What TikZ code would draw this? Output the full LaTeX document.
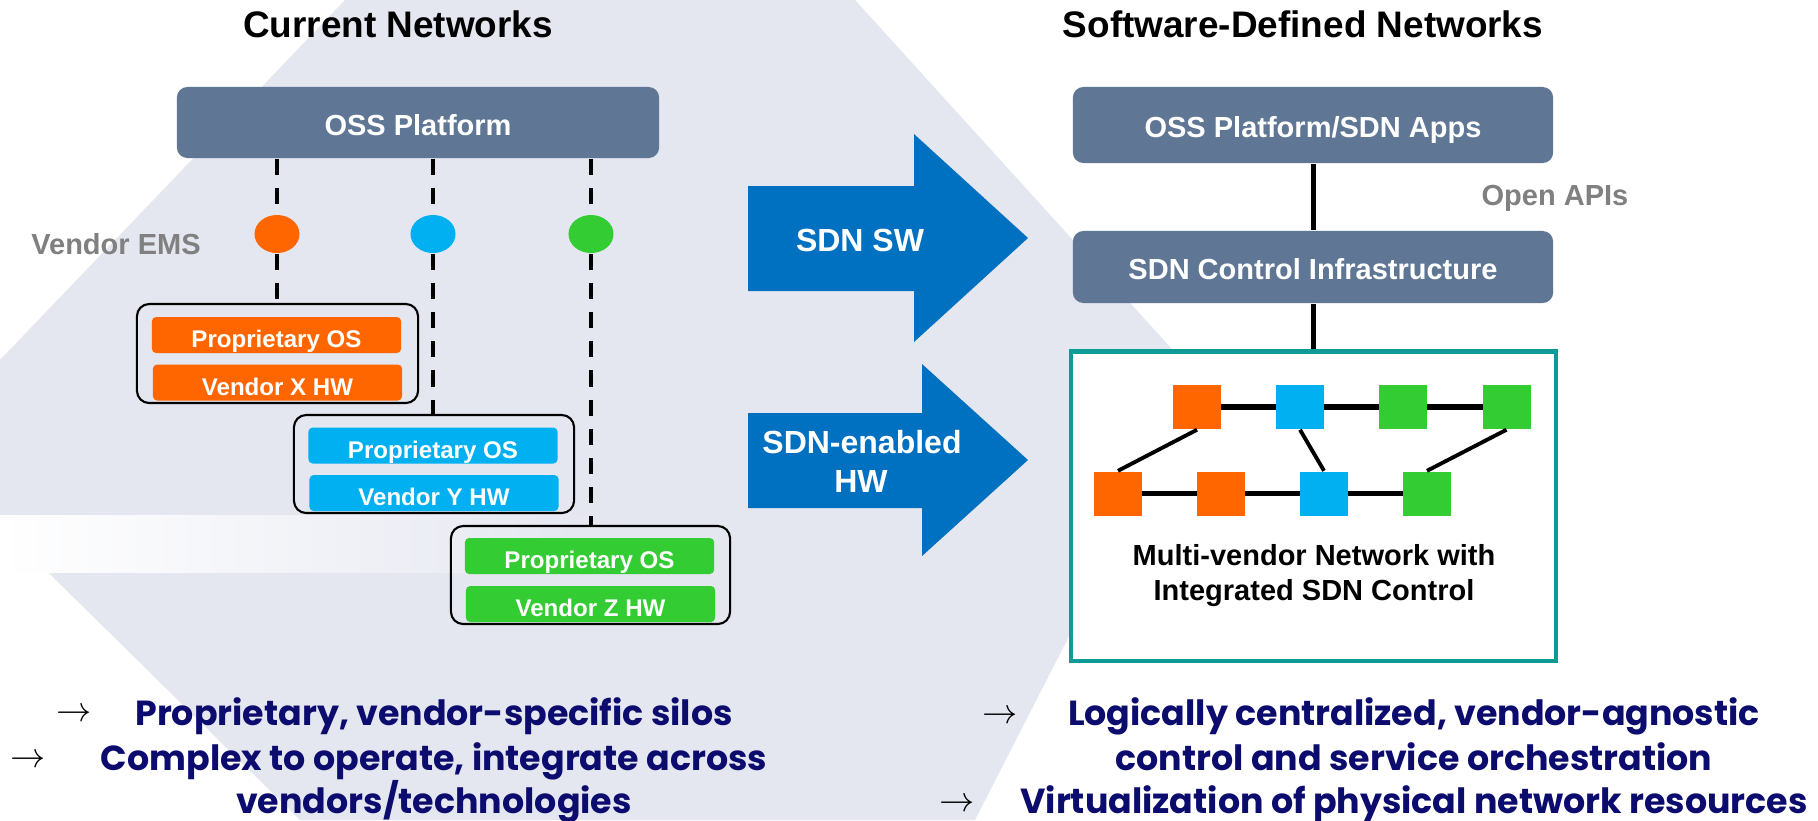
\documentclass[tikz,border=0pt]{standalone}
\usepackage{fontspec}
\setmainfont{Liberation Sans}
\newfontfamily\gothic{Poppins}
\usetikzlibrary{shapes.geometric}
\definecolor{boxgray}{RGB}{96,118,149}
\definecolor{vorange}{RGB}{255,102,0}
\definecolor{vblue}{RGB}{0,176,240}
\definecolor{vgreen}{RGB}{51,204,51}
\definecolor{arrowblue}{RGB}{0,112,192}
\definecolor{teal}{RGB}{14,155,149}
\definecolor{navy}{RGB}{12,12,110}
\definecolor{labelgray}{RGB}{128,128,128}
\definecolor{lav}{RGB}{228,230,240}
\newcommand{\fsz}[1]{\fontsize{#1}{1.2\dimexpr#1\relax}\selectfont}
\tikzset{
  title/.style={font=\bfseries\fsz{10.5pt}, inner sep=0pt, anchor=base},
  graybox/.style={draw=none, fill=boxgray, rounded corners=3pt, text=white, font=\bfseries\fsz{8.25pt}, text height=0.72em, text depth=0pt, inner sep=0pt},
  vendorbox/.style={draw=black, line width=0.6pt, rounded corners=3.5pt, fill=none, inner sep=0pt},
  innerbox/.style={fill=#1, rounded corners=1.2pt, text=white, font=\bfseries\fsz{6.85pt}, minimum width=2.49cm, minimum height=0.36cm, text height=0.72em, text depth=0pt, inner sep=0pt},
  ems/.style={ellipse, fill=#1, minimum width=0.45cm, minimum height=0.38cm, inner sep=0pt},
  dashline/.style={line width=1.2pt, dash pattern=on 4.6pt off 3.7pt},
  solidline/.style={line width=1.2pt},
  netsq/.style={fill=#1, minimum width=0.48cm, minimum height=0.44cm, inner sep=0pt},
  label/.style={text=labelgray, font=\bfseries\fsz{8.25pt}, inner sep=0pt, text height=0.72em, text depth=0pt},
  arrowtext/.style={text=white, font=\bfseries\fsz{9.1pt}, inner sep=0pt, text height=0.72em, text depth=0pt},
  bullettext/.style={text=navy, font=\gothic\bfseries\fsz{9.9pt}, inner sep=0pt, anchor=base},
  bulletarrow/.style={font=\fsz{10pt}, inner sep=0pt},
}
\begin{document}
\begin{tikzpicture}[x=0.01cm,y=-0.01cm]
\useasboundingbox (0,0) rectangle (1818,820);
% background
\fill[white] (0,0) rectangle (1818,820);
\fill[lav] (345,0) -- (855,0) -- (1200,380) -- (975,820) -- (300,820) -- (0,525) -- (0,360) -- cycle;
\shade[left color=white, right color=lav] (0,515) rectangle (620,572);

% titles
\node[title] (t1) at (398,37) {Current Networks};
\node[title] (t2) at (1303,37) {Software-Defined Networks};

% left side
\node[graybox, minimum width=4.82cm, minimum height=0.71cm] (oss) at (418,122.5) {OSS Platform};
\node[ems=vorange] (e1) at (277,234) {};
\node[ems=vblue] (e2) at (433,234) {};
\node[ems=vgreen] (e3) at (591,234) {};
\node[label] (vems) at (116,242) {Vendor EMS};

\node[vendorbox, minimum width=2.81cm, minimum height=0.99cm] (vb1) at (277.5,353.5) {};
\node[vendorbox, minimum width=2.80cm, minimum height=0.98cm] (vb2) at (434,464) {};
\node[vendorbox, minimum width=2.79cm, minimum height=0.98cm] (vb3) at (590.5,575) {};

\node[innerbox=vorange] (p1) at (276.5,335) {Proprietary OS};
\node[innerbox=vorange] (h1) at (277.5,382.5) {Vendor X HW};
\node[innerbox=vblue] (p2) at (433,445.5) {Proprietary OS};
\node[innerbox=vblue] (h2) at (434,493) {Vendor Y HW};
\node[innerbox=vgreen] (p3) at (589.5,556) {Proprietary OS};
\node[innerbox=vgreen] (h3) at (590.5,604) {Vendor Z HW};

\draw[dashline] (oss.south -| e1) -- (e1.north);
\draw[dashline] (oss.south -| e2) -- (e2.north);
\draw[dashline] (oss.south -| e3) -- (e3.north);
\draw[dashline] (e1.south) -- (vb1.north -| e1);
\draw[dashline] (e2.south) -- (vb2.north -| e2);
\draw[dashline] (e3.south) -- (vb3.north -| e3);

% middle arrows
\fill[arrowblue] (748,186) -- (914,186) -- (914,134) -- (1028,238) -- (914,342) -- (914,291) -- (748,291) -- cycle;
\node[arrowtext] (a1) at (860,238.5) {SDN SW};
\fill[arrowblue] (748,413) -- (922,413) -- (922,364) -- (1028,460) -- (922,556) -- (922,508) -- (748,508) -- cycle;
\node[arrowtext] (a2a) at (862,441) {SDN-enabled};
\node[arrowtext] (a2b) at (861,479.5) {HW};

% right side
\node[graybox, minimum width=4.80cm, minimum height=0.76cm] (ossr) at (1313,125) {OSS Platform/SDN Apps};
\node[graybox, minimum width=4.80cm, minimum height=0.72cm] (ctl) at (1313,267) {SDN Control Infrastructure};
\node[draw=teal, line width=1.2pt, fill=white, minimum width=4.84cm, minimum height=3.09cm, inner sep=0pt] (net) at (1313.5,506) {};
\draw[solidline] (ossr.south -| net) -- (ctl.north -| net);
\draw[solidline] (ctl.south -| net) -- (net.north);
\node[label] (api) at (1555,192.5) {Open APIs};

\draw[line width=1.5pt] (1197,407) -- (1506.5,407);
\draw[line width=1.5pt] (1118,493.5) -- (1427,493.5);
\node[netsq=vorange] (s1) at (1197,407) {};
\node[netsq=vblue] (s2) at (1300,407) {};
\node[netsq=vgreen] (s3) at (1403,407) {};
\node[netsq=vgreen] (s4) at (1506.5,407) {};
\node[netsq=vorange] (r1) at (1118,493.5) {};
\node[netsq=vorange] (r2) at (1221,493.5) {};
\node[netsq=vblue] (r3) at (1324,493.5) {};
\node[netsq=vgreen] (r4) at (1427,493.5) {};
\draw[line width=1.1pt] (s1.south) -- (r1.north);
\draw[line width=1.1pt] (s2.south) -- (r3.north);
\draw[line width=1.1pt] (s4.south) -- (r4.north);

\node[text=black, font=\bfseries\fsz{8.25pt}, inner sep=0pt, anchor=base] (m1) at (1314,565) {Multi-vendor Network with};
\node[text=black, font=\bfseries\fsz{8.25pt}, inner sep=0pt, anchor=base] (m2) at (1314,600) {Integrated SDN Control};

% bottom bullets
\node[bulletarrow] (la1) at (74,715) {$\rightarrow$};
\node[bullettext] (lt1) at (434,725) {Proprietary, vendor-specific silos};
\node[bulletarrow] (la2) at (28,761) {$\rightarrow$};
\node[bullettext] (lt2) at (434,770) {Complex to operate, integrate across};
\node[bullettext] (lt3) at (434,813) {vendors/technologies};

\node[bulletarrow] (ra1) at (1000,717) {$\rightarrow$};
\node[bullettext] (rt1) at (1414,725) {Logically centralized, vendor-agnostic};
\node[bullettext] (rt2) at (1414,770) {control and service orchestration};
\node[bulletarrow] (ra2) at (957,805) {$\rightarrow$};
\node[bullettext] (rt3) at (1414,813) {Virtualization of physical network resources};
\end{tikzpicture}
\end{document}
